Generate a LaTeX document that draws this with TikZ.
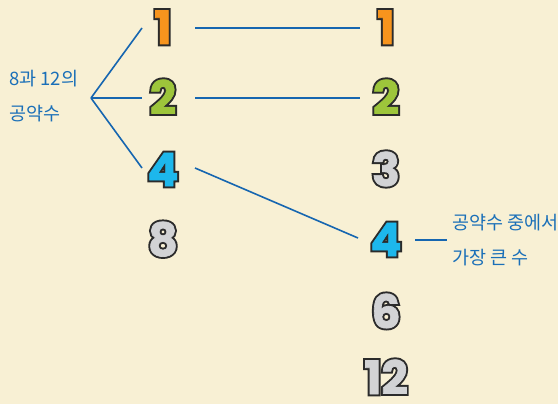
\documentclass[tikz,border=0pt]{standalone}
\usepackage{fontspec}
\newfontfamily\kr{Noto Sans CJK KR}
\newfontfamily\numfont{Poppins Bold}[FakeBold=1.5]
\newfontfamily\numstrokefont{Poppins Bold}[FakeBold=10]
\definecolor{bg}{HTML}{F8F0D4}
\definecolor{lineblue}{HTML}{1666B0}
\definecolor{txtblue}{HTML}{1A6FB8}
\definecolor{nstroke}{HTML}{2B2B2B}
\definecolor{norange}{HTML}{F7941D}
\definecolor{ngreen}{HTML}{9DC53B}
\definecolor{ncyan}{HTML}{1DB7EC}
\definecolor{ngray}{HTML}{D2D3D5}
\newcommand\outlined[2]{%
  \leavevmode
  \rlap{\numstrokefont\fontsize{46}{46}\selectfont\color{nstroke}#2}%
  {\numfont\fontsize{46}{46}\selectfont\color{#1}#2}}
\begin{document}
\begin{tikzpicture}[x=1pt,y=-1pt,
  num/.style={inner sep=0pt,anchor=base,text height=34pt,text depth=0pt},
  link/.style={draw=lineblue,line width=1.6pt},
  lbl/.style={inner sep=0pt,text=txtblue,font=\kr\fontsize{18.5}{35}\selectfont,align=left,anchor=west}]
\fill[bg] (0,0) rectangle (558,404);
\useasboundingbox (0,0) rectangle (558,404);
% left column
\node[num] (l1) at (163,44) {\outlined{norange}{1}};
\node[num] (l2) at (163,114) {\outlined{ngreen}{2}};
\node[num] (l4) at (163,186) {\outlined{ncyan}{4}};
\node[num] (l8) at (163,256) {\outlined{ngray}{8}};
% right column
\node[num] (r1) at (386,44) {\outlined{norange}{1}};
\node[num] (r2) at (386,114) {\outlined{ngreen}{2}};
\node[num] (r3) at (386,186) {\outlined{ngray}{3}};
\node[num] (r4) at (386,256) {\outlined{ncyan}{4}};
\node[num] (r6) at (386,328) {\outlined{ngray}{6}};
\node[num] (r12) at (386,394) {\outlined{ngray}{12}};
% labels
\node[lbl] (cd) at (9,96) {8과 12의\\공약수};
\node[lbl] (gcd) at (452,240) {공약수 중에서\\가장 큰 수};
\coordinate (v) at (91,98);
% connectors
\draw[link] (v) -- (142,28);
\draw[link] (v) -- (142,98);
\draw[link] (v) -- (142,168);
\draw[link] (195,28) -- (360,28);
\draw[link] (195,98) -- (360,98);
\draw[link] (195,168) -- (358,238);
\draw[link] (415,240) -- (447,240);
\end{tikzpicture}
\end{document}
